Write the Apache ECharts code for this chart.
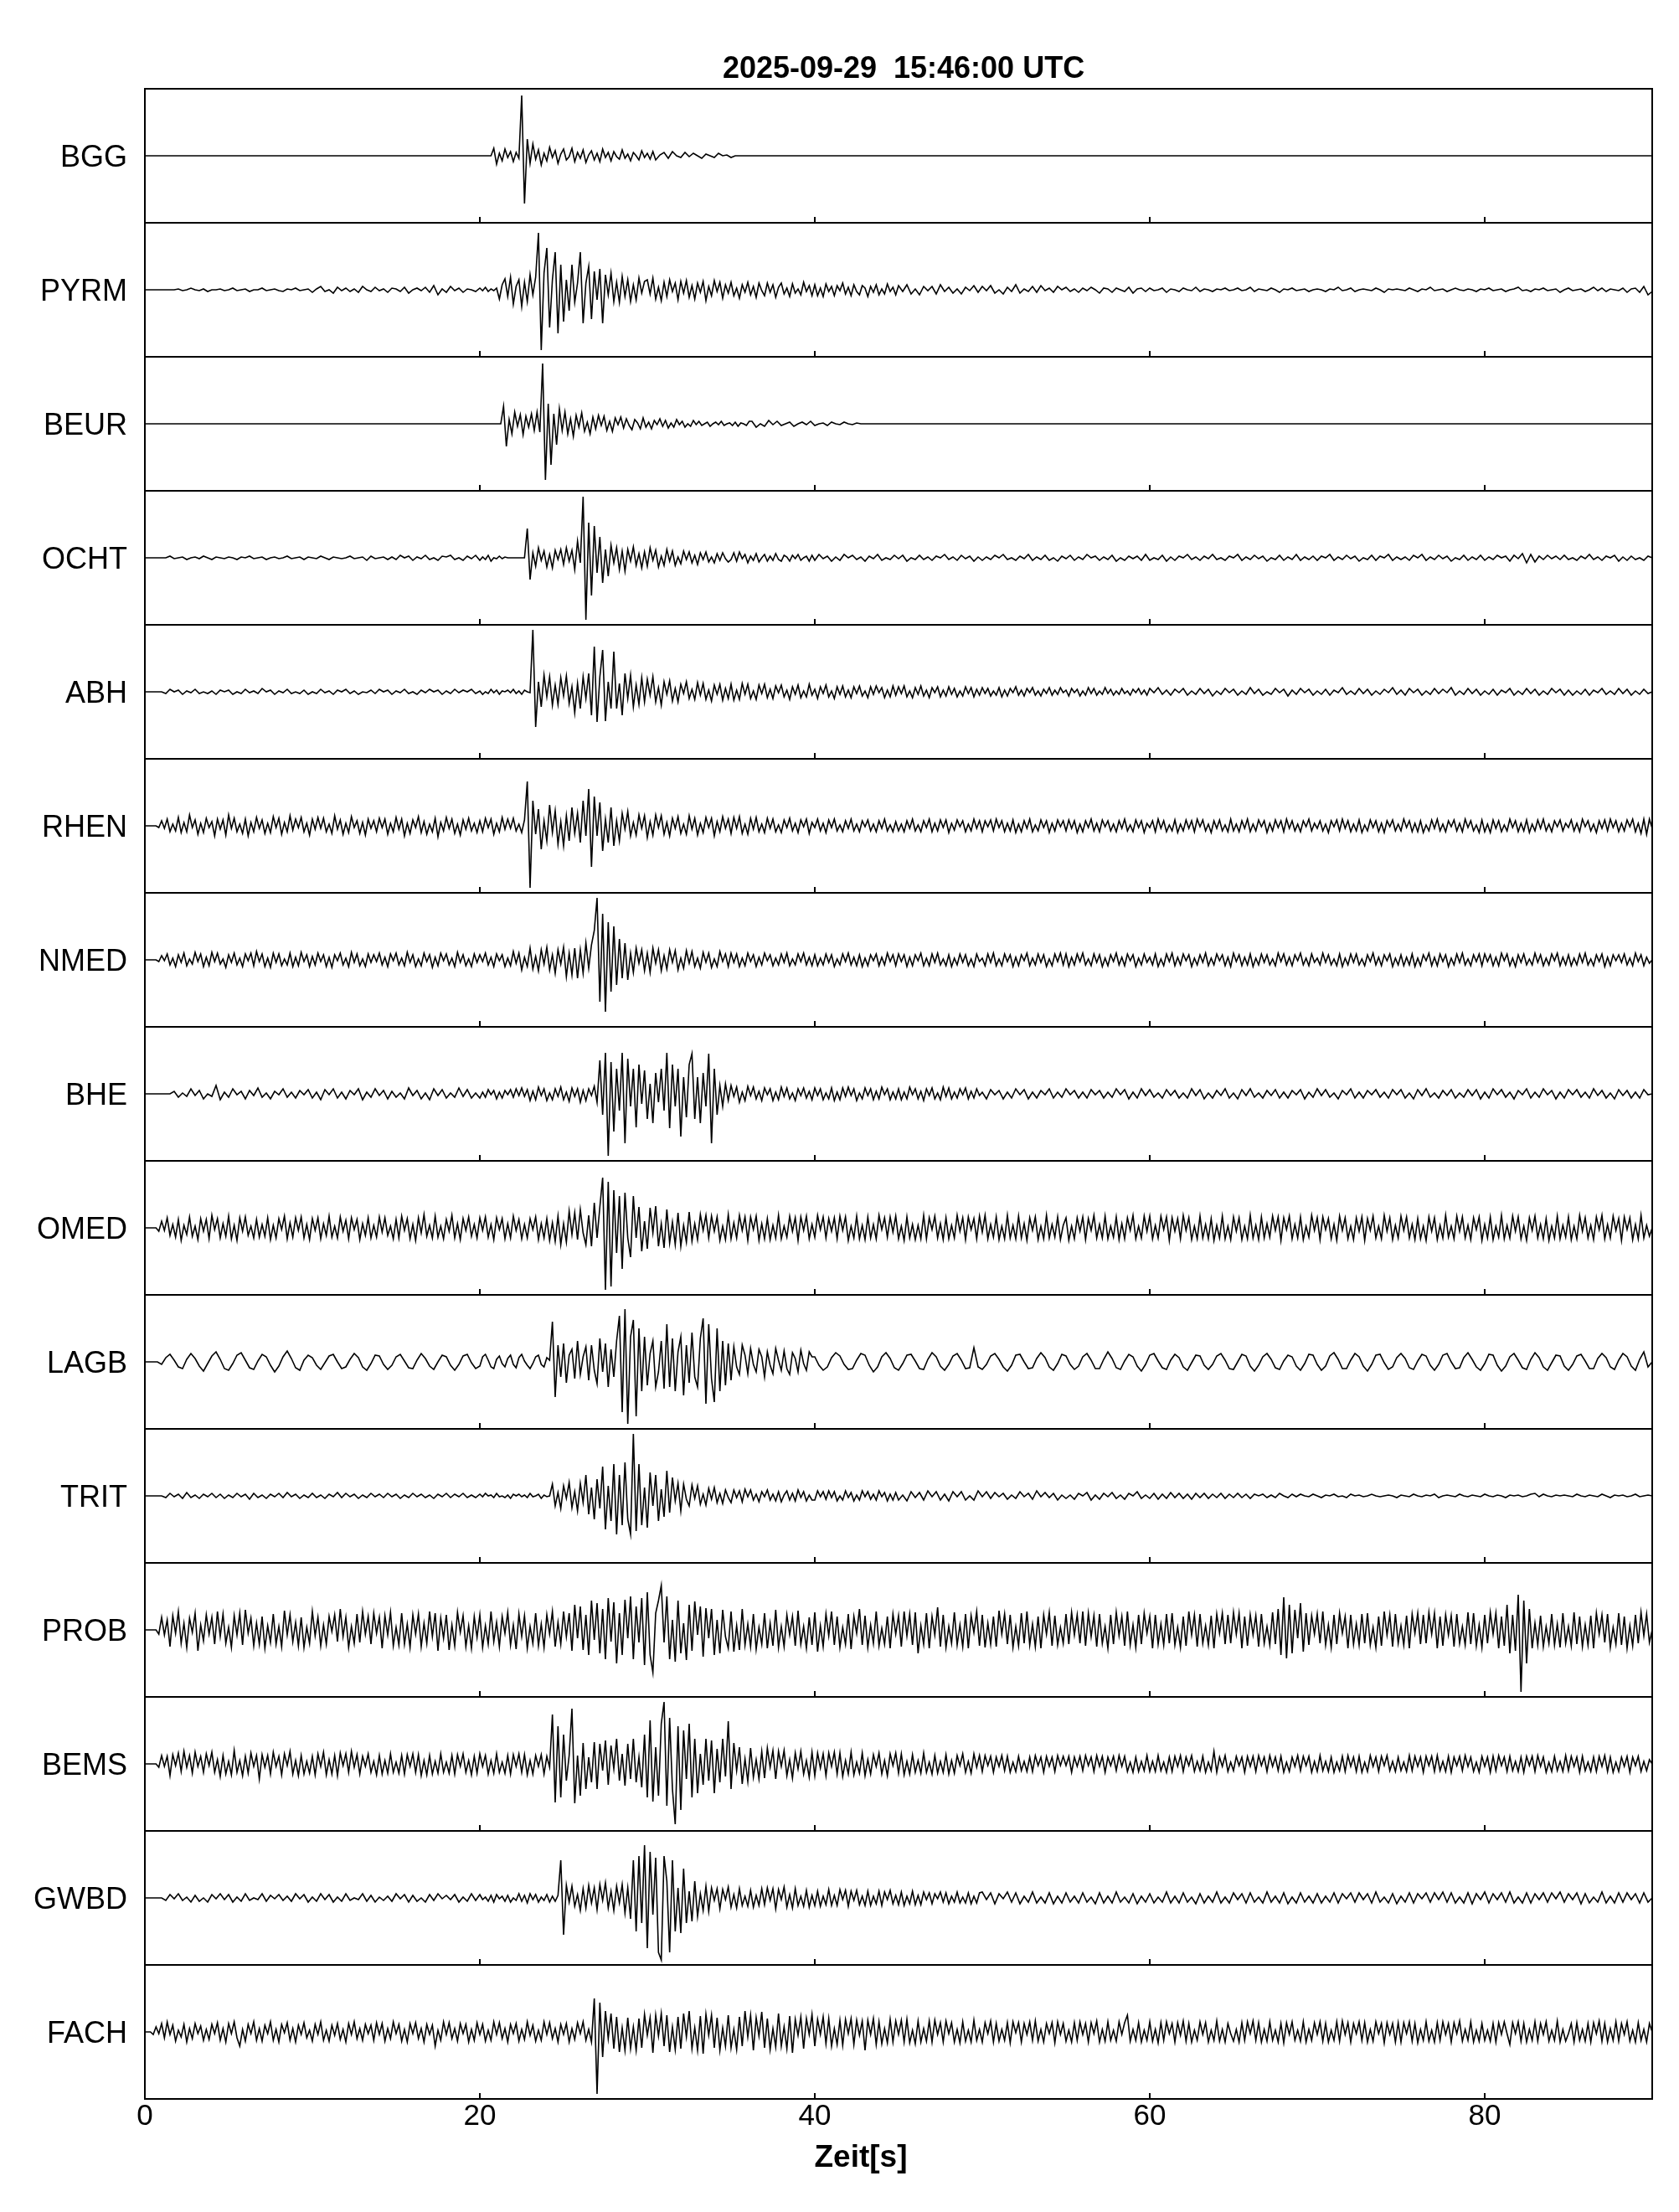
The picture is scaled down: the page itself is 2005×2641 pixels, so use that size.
<!DOCTYPE html>
<html>
<head>
<meta charset="utf-8">
<script src="https://cdn.jsdelivr.net/npm/echarts@6/dist/echarts.min.js"></script>
<style>
html,body{margin:0;padding:0;background:#fff;}
#chart{width:2005px;height:2641px;}
</style>
</head>
<body>
<div id="chart"></div>
<script>
// ---- Data: amplitudes in display units; each row spans 5 s (its samples evenly spaced), last row = t 90 ----
const TITLE = '2025-09-29  15:46:00 UTC';
const X_LABEL = 'Zeit[s]';
const X_TICKS = [0, 20, 40, 60, 80];
const ROW_SPAN = 5;
const DT_SHORT = 0.25;
const stations = ['BGG','PYRM','BEUR','OCHT','ABH','RHEN','NMED','BHE','OMED','LAGB','TRIT','PROB','BEMS','GWBD','FACH'];
const starts = [20.5,0,21.25,0,0,0,0,0,0,0,0,0,0,0,0];

const BGG = [
[0,0,9,-10,3,-6,8,-2,5,-7,4,-3,72,-57,20,-9,14,-4,7,-11,3,-6,10,-2,6,-9,2,8,-5,-1],
[9,-7,4,-3,7,-8,1,6,-5,3,-7,8,-2,4,-6,5,-1,-4,7,-3,2,-6,4,0,-5,6,-2,3,-4,5],
[-5,1,4,-3,5,0,-2,4,-1,3,0,-3,2,0,-2,3,0,1,-2,0],
[0]];
const PYRM = [
[0,0,0,0,0,0,0,0,1,-1,0,2,0,-1,1,-2,0,0,1,-1],
[0,2,-1,0,1,-2,0,0,2,-1,0,1,-1,-2,1,0,2,-1,0,1],
[-3,1,4,-2,0,-4,3,-1,2,-2,1,-3,4,0,-2,3,-1,1,-3,2],
[1,-2,3,-4,0,2,-1,3,-3,5,-6,1,-3,4,-1,2,-3,1,0,-2],
[2,-1,3,-2,1,-1,2,-11,6,13,-8,15,-17,4,12,-20,9,-14,18,-6,15,68,-72,20,50,-45,12,45,-52,30],
[-38,12,-25,30,-15,8,45,-40,8,28,-35,22,-12,25,-40,18,-6,20,-14,9,-15,16,-8,12,-14,6,-12,14,-4,10],
[12,-5,14,-11,3,-13,9,-8,12,-2,8,-12,10,-4,11,-9,5,-11,8,-3,10,-13,4,-7,11,-2,9,-10,6,-4],
[9,-7,2,-10,6,-3,9,-6,4,-9,8,-1,-7,8,-3,6,-9,3,8,-5,2,-8,7,-4,1,-6,9,-2,5,-7],
[6,-7,2,-8,7,-2,4,-7,5,-1,8,-5,3,-7,6,-2,-6,5,2,-8,4,-3,6,-6,1,-5,7,-2,3,-6],
[5,-2,6,-5,1,-6,4,-1,4,-5,6,-2,3,-4,1,-5,3,-1,5,-3],
[4,-1,5,-4,0,-5,3,-2,6,-4,1,-2,4,-3,5,-1,2,-3,4,0],
[3,-2,1,-3,2,-1,3,0,-4,2,1,-3,2,0,-2,3,-4,1,2,-2],
[2,-1,0,2,-3,1,0,-2,2,0,-1,3,-2,1,0,-2,1,0,2,-1],
[0,2,-1,0,3,-2,1,0,-1,2,0,-3,1,0,2,-1,0,1,-2,0],
[1,0,-2,1,0,3,-1,0,2,-2,0,1,0,-1,2,0,-3,1,0,1],
[0,-1,2,0,-2,1,0,3,-1,0,1,-2,0,2,0,-1,1,0,-2,1],
[0,2,-1,0,1,-2,0,1,3,-1,0,-2,1,0,2,-1,0,1,-3,0],
[2,-1,0,1,-2,0,3,-1,2,-2,1,0,-1,2,-3,1,2,-3,4,-6],
[-2]];
const BEUR = [
[0,21,-27,5,-12,14,-3,11,-13,9,-4,12,-8,14,-10,72,-67,24,-49,12,-25,18,-8,14,-12,6,-15,10,-4,13],
[-9,2,-12,8,-6,10,-2,9,-8,3,-9,7,-1,8,-5,6,-2,-7,5,1,-6,7,-4,2,-6,4,-1,6,-3,4],
[-5,1,-4,5,-1,3,-4,0,-3,4,-1,3,-2,0,2,-3,0,2,-1,3,-2,0,1,-2,2,-3,1,0,-2,3],
[3,-4,0,-3,4,-1,3,-2,0,2,-3,0,2,-1,3,-2,0,1,-2,2],
[0,-1,2,0,-1,1,0]];
const OCHT = [
[0,0,0,0,0,0,2,-1,0,1,-2,0,1,-1,2,0,-2,1,0,-1],
[1,0,-2,1,0,2,-1,0,1,-2,0,1,-1,0,2,-1,0,1,-2,1],
[0,-1,2,0,-2,1,0,-1,0,2,-1,0,1,-3,2,-1,0,1,-2,1],
[-2,3,0,2,-3,1,-1,3,-2,0,-3,2,1,3,-2,0,-3,2,-1,3],
[-3,1,-2,3,-4,0,-1,2,-1,1,0,0,0,0,0,0,0,35,-26,6,-10,12,-3,8,-11,4,-12,9,-2,10],
[-8,12,-4,9,-14,20,-6,73,-74,42,-45,38,-18,25,-30,10,-22,15,-6,12,-14,8,-16,10,-4,13,-9,5,-12,7],
[-10,12,-3,9,-11,2,-9,10,-4,8,-9,1,-7,8,-2,7,-6,3,-8,6,-2,7,-5,1,-6,5,-3,6,-1,-5],
[-2,6,-4,7,-1,4,-6,2,-3,5,-5,0,4,-4,2,-3,5,-2,-4,3,1,-4,3,-1,4,-3,0,2,-4,3],
[-3,4,-1,2,-4,1,-3,4,0,3,-2,1,-4,2,-1,4,-3,0,-2,3],
[-1,3,-4,0,-2,3,-2,1,-3,2,0,4,-2,1,-3,3,-1,2,-4,1],
[-3,1,-2,3,0,4,-2,0,-3,2,-1,4,-3,1,-2,3,-3,0,-4,2],
[-1,3,-3,1,-2,4,0,2,-3,1,-2,3,-4,0,-3,2,-1,2,-3,4],
[-3,0,-2,3,-4,1,-3,2,0,4,-2,1,-3,2,-1,4,-2,0,-3,2],
[0,4,-3,1,-2,3,-1,2,-4,0,-2,3,-3,1,-2,4,-3,1,-2,2],
[-3,2,0,4,-3,1,-2,3,-1,2,-4,0,-2,3,-3,2,0,4,-3,1],
[-2,1,-3,3,0,4,-3,1,-2,3,-1,2,-4,0,-2,3,-3,1,-2,3],
[-3,1,-2,3,0,2,-4,3,-1,5,-6,4,-5,2,-2,3,-1,2,-2,3],
[-2,0,-3,2,-1,4,-2,1,-3,2,0,3,-4,1,-3,2,-2,0,-3,2],
[0]];
const ABH = [
[0,0,0,0,0,-2,3,0,2,-3,1,-1,3,-2,0,-2,1,-3,2,0],
[2,-3,0,-2,3,-1,1,-2,4,0,2,-3,1,-1,3,-2,0,-2,2,-3],
[0,-2,3,-1,1,-3,2,0,3,-2,1,-3,0,-1,2,-2,3,0,2,-3],
[1,-1,3,-2,0,-3,2,-1,3,0,2,-3,1,-2,3,-1,2,0,3,-2],
[1,-3,0,-2,3,-1,2,-3,1,0,2,-1,3,-2,1,-3,2,0,-1,74,-42,12,-18,20,-6,18,-16,8,-15,17],
[-5,19,-14,6,-25,10,-20,18,-8,22,-28,54,-36,18,50,-35,12,-20,48,-20,10,-28,22,-8,20,-18,8,-15,17,-12],
[15,-4,18,-12,5,-16,12,-3,13,-11,4,-12,9,-2,12,-8,3,-9,11,-4,10,-9,2,-11,8,-3,9,-10,4,-8],
[9,-10,2,-9,10,-3,9,-8,1,-9,8,-2,9,-7,3,-8,7,-1,8,-6,2,-9,6,-3,8,-7,1,-6,9,-4],
[3,-8,6,-2,8,-6,1,-8,6,-3,7,-6,2,-7,6,-2,7,-5,1,-7,6,-3,7,-1,5,-7,2,-6,7,-4],
[6,-2,7,-6,1,-7,5,-3,7,-5,2,-7,5,-1,6,-6,2,-5,6,-3,4,-6,1,-5,6,-2,5,-6,3,-4],
[5,-2,4,-5,1,-4,5,-6,2,-5,4,-1,6,-4,2,-5,4,-1,5,-4,1,-5,3,-2,5,-4,2,-3,5,-1],
[2,-5,4,-1,3,-5,1,-4,5,-2,4,-4,1,-3,5,-2,3,-4,1,-3,4,-2,1,-4,3,-1,4,-3,2,-4],
[4,-1,5,-3,2,-4,3,-1,4,-4,1,-3,4,-2,3,-5,1,-3,4,-1],
[3,-4,1,-3,5,-2,3,-4,0,-3,4,-1,3,-5,2,-3,4,-1,3,-4],
[1,-3,3,-4,2,-1,5,-3,1,-3,4,-2,3,-4,1,-3,3,-1,5,-3],
[2,-4,4,-1,3,-4,1,-3,4,-2,3,-1,5,-4,1,-3,4,-2,3,-4],
[1,-3,3,-4,2,-1,4,-4,1,-3,4,-2,3,-4,1,-3,4,-1,3,-4],
[2,-4,1,-3,3,-4,2,-1,4,-3,1,-3,4,-2,3,-4,1,-3,3,-2],
[0]];
const RHEN = [
[0,0,0,0,0,-2,6,-3,8,-7,2,-6,10,-8,4,-7,13,-2,7,-10,3,-8,9,-2,5,-12,8,-4,7,-11],
[13,-3,9,-7,2,-9,8,-12,4,-7,10,-3,7,-9,3,-8,11,-2,9,-10,4,-7,12,-5,8,-2,10,-7,3,-11],
[8,-4,10,-3,9,-7,2,-9,12,-4,7,-10,3,-8,11,-2,6,-9,4,-11,8,-3,6,-7,9,-2,8,-10,3,-7],
[10,-4,8,-12,3,-9,7,-2,11,-8,5,-10,2,-7,9,-13,4,-6,10,-3,8,-9,2,-11,7,-4,9,-6,3,-8],
[6,-7,9,-2,8,-10,3,-7,10,-4,8,-3,9,-6,2,-8,7,53,-74,30,-10,20,-28,6,-18,25,-8,18,-22,5],
[-24,12,-18,22,-9,15,-20,30,-12,44,-49,35,-12,28,-30,8,-20,22,-24,6,-18,15,-4,17,-12,4,-11,13,-3,12],
[-14,5,-11,13,-2,12,-10,4,-12,9,-3,11,-9,2,-10,12,-4,9,-11,3,-8,10,-2,9,-12,5,-7,11,-3,8],
[-9,10,-3,11,-9,2,-10,9,-4,10,-7,2,-8,9,-3,8,-7,1,-8,7,-2,9,-6,3,-8,7,-1,8,-9,4],
[-2,8,-6,3,-8,7,-2,8,-6,1,-7,6,-3,8,-6,2,-7,6,-1,7,-6,2,-7,6,-3,8,-6,1,-7,5],
[-6,2,-7,6,-3,8,-6,1,-7,6,-2,8,-7,3,-6,7,-2,7,-8,3,-5,7,-1,6,-7,2,-6,8,-3,6],
[-7,6,-1,7,-6,8,-2,6,-7,3,-6,7,-8,2,-7,6,-3,8,-7,1,-6,7,-2,6,-8,3,-6,7,-1,6],
[-6,7,-3,6,-8,2,-7,6,-2,8,-6,3,-7,7,-1,6,-6,2,-7,6,-3,8,-6,1,-7,7,-2,6,-8,3],
[-2,6,-7,8,-3,6,-7,1,-6,7,-8,2,-6,7,-3,6,-7,8,-1,7,-6,2,-8,6,-3,7,-6,1,-7,8],
[-6,2,-7,6,-3,8,-7,2,-6,7,-1,6,-8,3,-6,7,-2,6,-7,8,-3,6,-6,2,-7,6,-1,8,-6,3],
[-3,6,-6,2,-8,6,-1,7,-6,8,-3,6,-7,2,-6,7,-8,1,-6,7,-2,6,-7,3,-8,6,-1,7,-6,2],
[-6,8,-2,6,-7,3,-7,6,-8,1,-6,7,-3,8,-6,2,-7,6,-1,7,-6,3,-7,8,-2,6,-6,1,-8,7],
[-7,2,-8,7,-3,6,-7,1,-6,8,-2,6,-7,3,-6,7,-8,2,-6,7,-3,8,-6,2,-7,6,-1,7,-6,3],
[-2,7,-6,3,-7,8,-1,6,-6,2,-8,6,-3,7,-6,8,-2,6,-7,3,-6,7,-1,8,-7,3,-9,8,-10,8],
[-3]];
const NMED = [
[0,0,0,0,0,-2,5,-1,7,-6,2,-8,6,-3,8,-7,1,-5,9,-2,7,-8,3,-7,9,-2,8,-5,1,-9],
[6,-3,8,-6,2,-8,7,-1,8,-7,10,-2,7,-8,2,-9,8,-3,7,-7,1,-6,8,-8,3,-7,9,-2,6,-8],
[4,-6,8,-2,6,-8,3,-9,6,-1,8,-6,2,-8,9,-3,7,-7,1,-8,7,-3,6,-2,8,-6,3,-8,7,-1],
[8,-6,2,-7,9,-3,6,-8,1,-7,8,-2,6,-9,3,-7,8,-1,7,-6,2,-8,9,-3,6,-7,1,-8,7,-3],
[6,-2,8,-6,3,-8,7,-1,6,-8,2,-7,10,-4,8,-12,3,-8,14,-11,4,-13,12,-5,15,-12,6,-16,12,-5],
[15,-20,8,-18,14,-22,12,-16,20,-10,18,35,74,-50,55,-62,45,-38,40,-30,25,-22,20,-24,8,-15,14,-4,12,-13],
[8,-15,14,-4,12,-13,5,-11,12,-3,11,-12,2,-10,11,-4,10,-8,2,-10,9,-3,8,-9,1,-8,10,-2,7,-8],
[8,-3,7,-8,2,-7,8,-2,6,-8,3,-6,8,-1,6,-7,2,-6,7,-3,8,-7,1,-6,7,-2,8,-6,3,-7],
[6,-7,2,-6,7,-3,6,-8,1,-6,7,-2,8,-6,3,-7,6,-8,2,-7,6,-1,7,-7,3,-6,8,-2,6,-7],
[7,-2,6,-8,3,-7,6,-1,8,-7,2,-7,7,-3,8,-6,1,-7,6,-8,2,-6,7,-3,6,-7,1,-8,7,-2],
[2,-7,7,-3,8,-7,1,-7,7,-2,6,-8,3,-7,6,-1,8,-7,2,-6,7,-3,6,-8,1,-7,7,-2,8,-6],
[7,-8,3,-6,7,-2,8,-6,1,-7,7,-3,6,-8,2,-7,6,-2,8,-6,3,-7,7,-1,6,-8,2,-6,7,-3],
[3,-6,7,-8,1,-7,7,-2,8,-7,3,-6,7,-1,6,-8,2,-6,6,-3,8,-7,2,-6,7,-1,6,-7,3,-8],
[8,-2,6,-7,3,-6,7,-8,2,-6,7,-3,6,-6,1,-7,8,-2,7,-6,3,-7,6,-1,8,-6,2,-7,7,-3],
[2,-6,8,-3,6,-6,1,-7,7,-8,2,-6,7,-3,7,-6,1,-7,6,-2,8,-6,3,-7,6,-1,7,-8,2,-6],
[6,-7,3,-6,7,-8,2,-7,6,-1,8,-7,3,-7,7,-2,6,-8,2,-6,7,-3,8,-6,1,-7,6,-2,7,-7],
[7,-2,6,-7,3,-7,8,-1,7,-7,2,-8,6,-3,7,-6,1,-6,8,-3,6,-7,2,-6,7,-1,8,-7,3,-6],
[6,-7,2,-6,7,-3,8,-6,1,-7,6,-2,7,-8,3,-7,6,-1,6,-3,7,-6,2,-7,8,-2,6,-7,3,-4],
[0]];
const BHE = [
[0,0,0,0,0,0,0,3,-4,1,-3,6,-2,4,-6,0,-3,10,-7,2],
[-4,6,-1,3,-6,4,-2,7,-4,1,-6,3,-1,6,-4,2,-5,4,-1,5],
[-5,2,-7,5,-1,6,-5,2,-6,4,-1,6,-7,2,-4,6,-2,4,-6,3],
[-4,1,-6,7,-2,4,-6,1,-7,6,-2,5,-5,1,-4,7,-3,5,-5,1],
[-5,2,-4,5,-1,4,-6,2,-5,4,-1,5,-4,6,-2,7,-3,5,-8,3,-7,8,-2,6,-8,1,-7,6,-3,8],
[-7,2,-9,7,-3,6,-10,4,-8,6,-2,9,-10,40,-25,49,-74,38,-45,30,-20,49,-59,42,-15,30,-40,35,-12,28],
[-30,12,-35,25,-10,30,-20,49,-41,35,-15,30,-51,20,-28,35,48,-30,20,-35,25,-15,48,-59,30,-25,10,-15,12,-8],
[10,-3,8,-10,2,-8,9,-2,8,-6,3,-8,7,-1,6,-8,2,-7,8,-3,7,-6,1,-8,6,-2,7,-5,3,-7],
[7,-2,6,-7,1,-6,7,-8,2,-7,7,-3,8,-2,6,-8,1,-6,7,-2,6,-7,3,-6,8,-1,6,-7,2,-6],
[6,-7,2,-6,8,-1,6,-6,3,-8,6,-2,7,-6,1,-7,8,-3,7,-6,2,-5,6,-1,7,-6,3,-5,6,-2],
[2,-6,5,-1,4,-6,2,-5,6,-1,5,-6,2,-5,4,-1,6,-5,2,-4],
[6,-1,4,-5,2,-5,5,-1,4,-5,2,-4,6,-1,5,-6,2,-5,6,-2],
[5,-4,1,-5,5,-2,4,-5,1,-5,6,-2,5,-6,1,-5,4,-2,6,-5],
[1,-6,5,-2,6,-4,1,-5,4,-2,5,-5,2,-5,4,-1,5,-6,2,-4],
[6,-2,5,-4,1,-6,4,-1,6,-5,2,-5,4,-1,5,-4,2,-5,5,-1],
[5,-5,1,-6,5,-2,6,-4,1,-5,4,-2,5,-5,1,-4,5,-2,5,-6],
[2,-5,6,-1,5,-4,2,-6,4,-1,6,-5,2,-4,6,-1,4,-6,2,-5],
[5,-1,5,-4,2,-5,6,-2,4,-5,1,-6,5,-2,4,-5,2,-5,5,-1],
[0]];
const OMED = [
[0,0,0,0,0,-4,8,-3,12,-9,4,-11,10,-15,3,-8,13,-10,2,-14,11,-4,10,-13,15,-2,11,-12,5,-10],
[14,-13,3,-15,12,-4,13,-9,2,-12,10,-11,4,-10,12,-14,3,-12,11,-2,14,-13,6,-11,12,-3,13,-12,4,-14],
[11,-3,12,-13,5,-9,14,-11,2,-12,13,-4,9,-13,12,-2,10,-14,5,-9,12,-12,3,-11,13,-5,12,-9,2,-13],
[10,-12,14,-3,11,-13,4,-15,12,-6,16,-10,3,-12,14,-11,2,-13,10,-4,15,-12,5,-14,11,-3,13,-10,4,-12],
[12,-3,13,-11,4,-14,12,-2,11,-13,5,-12,14,-3,10,-13,4,-12,11,-2,13,-14,5,-12,11,-15,6,-16,14,-20],
[5,-17,20,-8,18,-14,22,-6,-20,15,-22,30,-12,25,60,-74,55,-70,45,-30,38,-49,42,-12,-35,38,-12,25,-28,8],
[-25,24,-6,26,-22,5,-24,22,-18,7,-20,18,-22,3,-17,19,-16,5,-14,16,-3,15,-12,14,-4,13,-15,2,-14,16],
[-13,6,-12,15,-3,13,-15,13,-2,14,-15,5,-13,11,-14,3,-12,15,-13,2,-11,14,-4,12,-15,13,-3,14,-13,4],
[-11,15,-2,13,-12,11,-4,12,-13,14,-3,13,-15,2,-12,14,-13,3,-14,13,-12,4,-13,15,-2,12,-11,13,-5,14],
[-13,2,-15,13,-12,4,-14,3,-13,15,-13,12,-2,14,-12,5,-14,12,-13,3,-12,15,-4,12,-14,13,-2,11,-13,14],
[-5,15,-13,4,-11,13,-14,2,-13,15,-12,3,-13,14,-12,5,-15,12,-3,13,-14,2,-13,15,-12,4,-11,13,-14,3],
[12,-15,2,-13,12,-4,13,-14,11,-3,15,-12,4,-12,14,-13,2,-11,13,-14,5,-13,12,-3,15,-13,2,-12,14,-4],
[14,-13,3,-12,14,-2,13,-15,12,-4,11,-13,15,-3,12,-14,2,-13,14,-12,4,-13,11,-15,3,-12,14,-13,2,-14],
[13,-4,12,-14,2,-13,15,-12,3,-14,13,-12,5,-11,14,-3,13,-15,12,-2,14,-13,4,-12,13,-14,2,-11,15,-3],
[12,-14,13,-2,11,-13,4,-15,14,-3,12,-13,2,-14,12,-4,13,-15,11,-3,14,-12,2,-13,15,-4,12,-14,3,-12],
[14,-3,13,-12,4,-14,11,-13,2,-15,13,-4,12,-14,3,-12,15,-11,2,-13,14,-4,13,-12,3,-14,12,-2,13,-15],
[4,-12,13,-14,2,-11,15,-13,3,-12,14,-4,13,-13,2,-15,12,-3,14,-12,4,-13,11,-15,2,-12,14,-13,3,-11],
[13,-14,2,-13,15,-4,12,-12,3,-14,13,-2,15,-13,4,-12,14,-3,11,-15,13,-2,12,-14,4,-13,15,-12,3,-10],
[0]];
const LAGB = [
[0,0,0,0,-3,5,9,2,-6,-8,3,10,4,-5,-11,-2,7,12,3,-8],
[-10,-2,8,11,2,-7,-9,1,9,6,-4,-12,-5,6,13,4,-7,-10,2,8],
[5,-4,-9,-1,7,9,0,-8,-6,3,10,5,-6,-10,-2,8,7,-3,-9,-4],
[6,9,1,-7,-8,2,10,4,-5,-9,0,8,6,-4,-10,-3,7,9,-1,-8],
[-5,6,9,2,-6,-8,3,7,-2,-6,4,8,-3,-7,5,9,1,-4,-8,-2,6,8,-3,-6,5,2,48,-42,20,-18],
[22,-25,8,15,-20,25,-15,6,18,-22,20,-10,-26,28,-12,22,-30,15,-18,25,55,-60,63,-74,30,50,-65,40,-35,30],
[-28,10,25,-30,-12,25,-32,45,-30,28,-35,12,30,-40,20,-25,35,-18,-30,28,52,-50,45,-20,-48,40,-35,25,-28,22],
[-22,18,-6,-15,20,8,-14,16,-3,-12,15,6,-18,12,-4,-14,16,2,-10,13,-8,-15,11,4,-12,14,-2,-10,12,6],
[6,-4,-10,-6,5,11,7,-3,-9,-8,2,10,8,-4,-12,-6,6,11,4,-7],
[-10,-2,8,9,1,-8,-9,3,11,6,-5,-10,-3,7,10,2,-8,-7,17,-6],
[-9,-3,7,10,3,-6,-11,-4,8,9,0,-8,-7,4,11,5,-6,-10,-2,9],
[7,-3,-9,-5,6,10,2,-8,-8,3,12,4,-7,-9,1,9,6,-5,-11,-3],
[8,10,1,-7,-9,2,9,5,-6,-10,-1,8,7,-4,-9,-3,7,10,2,-8],
[-9,0,9,7,-5,-11,-4,6,10,3,-7,-9,1,8,6,-5,-10,-2,9,8],
[-3,-10,-5,7,11,3,-8,-8,2,10,6,-5,-11,-3,8,9,-1,-9,-6,5],
[10,4,-7,-9,1,9,7,-4,-10,-3,8,10,0,-8,-7,5,11,3,-6,-10],
[-2,9,8,-4,-11,-5,6,10,2,-7,-9,3,11,5,-6,-10,-1,8,7,-5],
[-10,-3,7,9,1,-8,-8,4,10,5,-6,-9,2,10,6,-5,-10,3,12,-6],
[0]];
const TRIT = [
[0,0,0,0,0,-2,3,-1,2,-3,4,-2,1,-3,2,-1,3,-2,2,-3],
[1,-2,3,-1,2,-4,3,-2,1,-3,2,-1,3,-2,4,-1,2,-3,1,-2],
[3,-2,1,-3,2,-1,4,-2,3,-1,2,-3,1,-2,3,-1,2,-2,3,-1],
[2,-3,1,-2,3,-1,2,-2,1,-3,2,-1,3,-2,2,-1,3,-2,1,-2],
[2,-1,3,0,1,-2,3,-1,0,-2,1,-3,2,0,2,-1,1,-2,3,-1,0,2,-3,1,-1,0,14,-12,4,-15],
[12,-3,16,-14,5,-18,15,-8,25,-22,10,-28,20,-15,35,-40,12,-30,38,-46,25,-35,40,-28,-46,74,-42,38,-35,10],
[-38,28,-12,25,-30,8,-25,30,-20,22,-6,15,-18,14,-4,-12,13,-3,12,-10,2,-11,9,-4,10,-8,3,-9,7,-2],
[-8,7,-2,6,-7,8,-1,7,-5,2,-7,5,-1,7,-5,2,-6,5,-7,1,6,-5,3,-6,7,-2,5,-6,1,-5],
[-5,6,-1,5,-4,6,-2,5,-6,0,-5,6,-2,4,-6,1,-5,6,-1,5,-4,2,-5,6,-1,4,-6,2,-5,4],
[-5,1,-6,5,-2,4,-5,6,-1,5,-5,2,-6,5,-1,5,-5,0,-5,6],
[-1,5,-3,4,-1,3,-4,1,-3,5,-1,3,-4,6,-1,4,-2,3,-5,1],
[-3,1,-4,3,0,4,-5,1,-4,3,-1,4,-3,1,-4,3,0,5,-3,1],
[-3,3,-4,2,-3,4,-2,3,-3,2,-4,3,-2,3,-3,2,-2,3,-3,2],
[-2,3,-2,2,-3,2,0,2,-2,1,-2,3,0,-2,2,-1,2,0,-1,2],
[0,-2,1,0,2,-1,0,-2,2,0,1,-1,0,2,0,-1,0,1,0,-2],
[1,0,-1,2,0,-1,1,0,2,-2,0,1,0,-1,2,0,-1,1,0,-1],
[2,0,-1,1,0,-2,1,0,1,-1,0,2,3,-1,2,0,-1,1,0,1],
[0,-1,2,0,-1,1,0,-1,2,0,-2,1,0,1,-1,0,2,-1,0,1],
[0]];
const PROB = [
[0,0,0,0,0,-5,15,-6,12,-20,17,-4,22,-16,8,-21,14,-3,20,-25,6,-13,18,-5,15,-17,22,-8,19,-16],
[3,-21,17,-6,20,-18,24,-4,14,-19,8,-17,16,-22,5,-15,19,-17,4,-20,23,-6,18,-14,9,-19,15,-21,3,-16],
[22,-7,15,-19,6,-17,16,-2,18,-14,25,-8,15,-21,4,-16,19,-15,22,-5,16,-17,20,-4,15,-22,17,-6,21,-19],
[3,-18,20,-17,7,-21,18,-5,19,-20,8,-16,22,-8,20,-25,14,-10,18,-24,6,-19,21,-3,17,-20,5,-22,16,-9],
[18,-21,5,-17,22,-14,9,-20,16,-4,21,-18,6,-23,19,-8,17,-22,4,-16,20,-19,7,-21,18,-5,22,-20,9,-17],
[22,-8,20,-25,30,-10,28,-24,18,-30,35,-12,32,-28,25,-35,38,-14,33,-40,20,-30,36,-10,40,-35,28,-15,38,-42],
[45,-30,-51,20,35,53,-15,40,-35,12,-38,35,-28,8,-36,30,-25,34,-6,28,-32,26,-10,25,-30,12,-28,24,-8,-22],
[22,-26,5,-24,25,-18,7,-20,19,-23,3,-17,20,-22,8,-19,24,-21,4,-20,18,-6,16,-19,23,-17,4,-22,15,-18],
[21,-26,5,-20,19,-7,22,-18,16,-21,3,-17,19,-23,16,-4,25,-18,17,-21,6,-16,22,-19,2,-17,16,-22,19,-5],
[17,-20,22,-7,19,-18,21,-28,5,-17,20,-22,16,-6,27,-20,18,-21,4,-16,21,-18,6,-20,19,-22,17,-3,22,-19],
[18,-21,8,-17,16,-20,23,-5,19,-17,18,-21,4,-19,20,-16,22,-18,7,-20,16,-22,18,-5,21,-19,17,-18,3,-16],
[19,-17,21,-6,18,-16,22,-19,20,-8,17,-20,19,-16,4,-22,18,-17,21,-7,16,-19,22,-18,6,-21,18,-17,20,-4],
[16,-22,18,-17,7,-18,19,-16,20,-18,3,-21,16,-19,22,-6,18,-20,19,-16,5,-18,17,-22,19,-4,20,-17,18,-16],
[21,-5,20,-22,16,-19,18,-6,17,-20,19,-16,4,-18,21,-17,25,-30,39,-34,30,-28,24,-10,32,-26,20,-18,17,-5],
[19,-16,22,-18,6,-21,18,-17,20,-4,16,-22,18,-17,7,-18,19,-16,20,-18,3,-21,16,-19,22,-6,18,-20,19,-16],
[5,-18,17,-22,19,-4,20,-17,18,-16,21,-5,20,-22,16,-19,18,-6,17,-20,19,-16,4,-18,21,-17,20,-19,6,-21],
[18,-16,21,-5,20,-22,16,-19,30,-28,18,-25,42,-74,35,-40,25,-22,8,-18,17,-20,4,-16,19,-18,7,-21,20,-16],
[4,-19,21,-17,16,-20,6,-18,17,-22,20,-5,18,-15,19,-21,3,-17,20,-18,16,-22,5,-19,18,-16,21,-7,19,-15],
[0]];
const BEMS = [
[0,0,0,0,0,-4,10,-3,9,-14,11,-2,13,-9,15,-4,10,-11,14,-3,9,-10,12,-2,14,-10,5,-15,10,-12],
[3,-13,16,-10,4,-14,9,-11,13,-3,10,-18,11,-4,10,-12,14,-3,9,-13,12,-2,15,-12,4,-14,10,-12,3,-11],
[9,-13,12,-3,14,-13,5,-12,10,-14,13,-2,12,-10,15,-4,11,-12,9,-3,12,-10,3,-13,10,-12,4,-11,12,-10],
[2,-11,10,-12,11,-3,12,-10,11,-14,4,-13,10,-12,3,-11,12,-10,2,-11,10,-12,11,-3,12,-10,4,-13,9,-11],
[12,-3,10,-12,4,-11,12,-10,2,-11,10,-12,11,-3,12,-10,11,-13,4,-12,10,-3,11,-12,9,-4,59,-46,45,-40],
[35,-20,10,66,-47,10,-38,25,-30,8,-22,26,-30,24,-8,28,-25,22,-6,30,-20,12,-26,24,-18,30,-22,8,-28,35],
[-40,52,-45,20,-38,48,74,-50,55,-30,-72,45,-55,40,-18,48,-40,30,-35,12,-25,30,-20,28,-35,18,-22,30,-15,51],
[-30,25,-8,20,-24,6,-21,19,-16,5,-18,15,-17,19,-4,16,-18,15,-3,16,-14,5,-17,13,-6,15,-12,4,-16,14],
[-14,13,-5,12,-14,13,-3,14,-12,13,-15,4,-12,14,-13,2,-11,13,-14,5,-12,11,-3,13,-12,4,-14,12,-2,13],
[-11,12,-13,3,-12,11,-10,4,-11,13,-10,2,-12,10,-11,3,-10,11,-12,4,-11,10,-2,12,-10,3,-11,12,-4,10],
[-9,10,-2,9,-10,8,-3,10,-8,9,-10,2,-9,9,-8,3,-9,8,-9,10,-2,8,-10,9,-3,8,-9,10,-2,9],
[-2,9,-10,8,-3,9,-8,10,-2,8,-9,10,-3,9,-10,8,-2,9,-8,10,-3,9,-9,2,-10,8,-9,3,-8,10],
[-9,3,-9,10,-8,2,-10,8,-9,9,-3,10,-9,8,-2,10,-9,3,-8,9,-10,2,-8,15,-10,8,-3,10,-9,2],
[-8,9,-2,8,-10,9,-3,9,-9,10,-2,8,-9,10,-3,8,-8,9,-10,2,-9,8,-3,10,-8,9,-2,9,-10,3],
[-9,10,-8,3,-9,8,-10,2,-8,9,-9,10,-3,8,-9,9,-10,2,-9,10,-3,8,-9,9,-2,10,-8,3,-9,8],
[-8,2,-9,10,-8,9,-3,8,-10,9,-2,9,-9,10,-8,3,-9,9,-10,8,-2,9,-8,10,-3,8,-9,2,-10,9],
[-3,8,-10,9,-8,10,-2,8,-9,9,-8,3,-9,8,-10,9,-2,9,-9,10,-3,8,-10,2,-9,9,-8,3,-9,10],
[-8,9,-3,8,-10,9,-8,2,-9,8,-9,9,-3,10,-9,8,-10,2,-9,8,-3,9,-10,8,-2,9,-9,3,-8,5],
[0]];
const GWBD = [
[0,0,0,0,0,-3,4,-1,5,-3,1,-5,3,-4,0,-5,4,-1,5,-2],
[4,-5,1,-4,5,-3,0,-2,5,-4,3,-1,4,-3,2,-4,5,-1,4,-5],
[1,-4,5,-2,4,-5,1,-4,5,-3,0,-2,5,-4,3,-5,1,-3,2,-4],
[5,-1,4,-5,3,-4,0,-5,4,-3,5,-1,3,-2,4,-5,1,-4,5,-3],
[4,-2,1,-4,3,-5,4,-1,2,-4,3,-5,0,-3,5,-4,3,-6,5,-2,4,-5,1,-3,4,-5,2,-4,3,45],
[-44,15,-5,14,-10,4,-15,11,-12,15,-6,12,-14,16,-3,18,-12,8,-15,14,-6,16,-18,12,-25,45,-40,50,-30,63],
[-60,55,-20,48,-65,-74,50,20,-65,45,-40,12,-42,35,-30,8,-28,20,-22,5,-15,14,-16,12,-3,11,-13,10,-2,13],
[-11,4,-12,11,-9,2,-10,9,-11,3,-9,11,-8,12,-3,11,-13,10,-2,13,-11,4,-12,11,-9,2,-10,9,-11,3],
[-9,8,-10,2,-8,10,-9,3,-9,10,-2,9,-10,8,-3,9,-8,2,-9,8,-9,2,-7,8,-9,7,-2,9,-7,3],
[-8,7,-9,2,-7,8,-8,3,-8,7,-2,6,-7,5,-1,7,-5,6,-7,2,-5,7,-6,1,-6,6,-7,2,-6,6],
[7,-2,6,-7,5,-1,7,-5,6,-7,2,-5,7,-6,1,-6,6,-7,2,-6],
[6,-5,2,-6,6,-5,1,-7,6,-6,2,-6,7,-5,1,-6,5,-7,2,-5],
[5,-6,1,-5,7,-6,2,-6,6,-5,1,-7,5,-6,2,-5,7,-6,1,-6],
[6,-2,5,-6,6,-5,1,-6,7,-5,2,-6,6,-7,1,-6,6,-5,2,-6],
[5,-6,2,-5,6,-6,5,-1,6,-5,6,-2,5,-6,7,-5,1,-6,5,-7],
[2,-5,6,-6,5,-1,6,-5,6,-2,7,-5,6,-6,1,-6,6,-7,5,-2],
[7,-6,5,-2,6,-5,7,-6,1,-6,6,-6,5,-2,6,-5,6,-1,7,-5],
[5,-2,6,-7,5,-6,1,-5,7,-6,2,-6,6,-5,6,-2,5,-6,6,-5],
[0]];
const FACH = [
[0,0,0,-3,6,-2,10,-7,12,-3,8,-11,2,-6,9,-12,4,-8,10,-2,7,-10,3,-9,9,-2,11,-10,4,-12],
[10,-2,12,-7,-17,3,-11,9,-2,12,-10,4,-11,8,-2,12,-10,3,-12,9,-1,11,-10,4,-12,8,-3,11,-7,2],
[-11,9,-3,12,-10,2,-11,8,-4,10,-9,3,-12,10,-3,12,-8,4,-10,9,-2,8,-10,11,-3,10,-11,4,-8,12],
[-2,9,-11,3,-12,10,-2,11,-8,4,-12,9,-3,8,-17,2,-10,12,-3,11,-8,4,-11,10,-2,9,-12,3,-10,11],
[-3,9,-11,2,-10,12,-3,11,-8,4,-12,9,-2,10,-11,3,-9,12,-4,8,-11,2,-10,12,-3,11,-8,4,-12,9],
[-3,10,-12,4,-9,11,-2,12,-10,3,-12,40,-74,35,-30,25,-8,22,-20,18,-24,5,-22,17,-20,6,-22,16,-19,21],
[-4,17,-25,20,-5,22,-17,20,-24,6,-21,18,-20,22,-6,25,-20,5,-22,19,-26,21,-4,20,-19,17,-22,5,-17,20],
[-19,3,-21,18,-17,25,-6,20,-22,17,-5,24,-19,16,-21,4,-18,22,-17,6,-20,19,-25,15,-4,18,-20,16,-3,21],
[-17,15,-3,18,-14,16,-17,4,-15,14,-16,15,-2,16,-15,14,-4,13,-22,14,-3,16,-15,12,-14,4,-13,15,-12,13],
[-3,14,-12,15,-13,2,-14,13,-12,4,-11,13,-12,14,-3,11,-12,13,-2,11,-12,3,-13,12,-11,2,-12,14,-10,3],
[-12,11,-2,13,-12,10,-11,3,-10,11,-13,12,-1,11,-12,10,-3,12,-10,13,-11,3,-12,10,-2,11,-13,12,-3,10],
[-11,2,-12,11,-10,12,-3,10,-12,11,-2,13,-12,3,-11,12,-10,2,-11,12,-3,11,20,-11,3,-10,11,-12,2,-10],
[12,-11,3,-13,11,-10,12,-2,10,-12,11,-4,13,-11,10,-12,2,-10,12,-3,11,-12,2,-10,13,-11,3,-12,10,-2],
[-11,3,-12,11,-10,12,-2,13,-10,11,-12,3,-11,12,-10,2,-12,10,-13,11,-3,12,-10,2,-11,12,-12,3,-10,11],
[-3,12,-11,10,-12,2,-10,12,-11,13,-3,11,-12,10,-2,12,-10,11,-12,3,-11,12,-2,10,-13,11,-3,10,-12,11],
[-12,11,-2,12,-11,10,-13,3,-10,12,-11,2,-12,11,-10,12,-3,10,-12,11,-2,13,-11,3,-10,12,-12,2,-11,10],
[-10,2,-11,10,-12,11,-3,12,-2,-15,11,-2,12,-11,10,-12,3,-10,12,-11,10,-3,12,-11,2,-10,13,-12,3,-11],
[-2,10,-12,11,-10,3,-11,10,-12,11,-2,13,-11,10,-12,4,-10,12,-11,10,-3,12,-11,2,-12,11,-10,3,-12,10],
[0]];

const traces = [BGG,PYRM,BEUR,OCHT,ABH,RHEN,NMED,BHE,OMED,LAGB,TRIT,PROB,BEMS,GWBD,FACH];

// ---- Layout ----
const PLOT_LEFT = 173, PLOT_RIGHT = 1973, PLOT_TOP = 106, PANEL_H = 160;
const X_MIN = 0, X_MAX = 90;
const FONT = '"Liberation Sans", Arial, Helvetica, sans-serif';

function buildSeries(rows, t0) {
  const pts = [];
  if (t0 > X_MIN) pts.push([X_MIN, 0]);
  rows.forEach((row, r) => {
    const dt = row.length >= 20 ? ROW_SPAN / row.length : DT_SHORT;
    row.forEach((v, j) => pts.push([t0 + r * ROW_SPAN + j * dt, v]));
  });
  const last = pts[pts.length - 1][0];
  if (last < X_MAX) pts.push([X_MAX, 0]);
  return pts;
}

const n = stations.length;
const grids = [], xAxes = [], yAxes = [], series = [], graphics = [];
for (let i = 0; i < n; i++) {
  const top = PLOT_TOP + i * PANEL_H;
  grids.push({
    left: PLOT_LEFT, width: PLOT_RIGHT - PLOT_LEFT, top: top, height: PANEL_H,
    show: true, borderColor: '#000', borderWidth: 2, backgroundColor: 'transparent'
  });
  const isLast = i === n - 1;
  xAxes.push({
    type: 'value', gridIndex: i, min: X_MIN, max: X_MAX, interval: 20, position: 'bottom',
    axisLine: { show: false, onZero: false },
    axisTick: { show: true, inside: true, length: 7, lineStyle: { color: '#000', width: 2 } },
    splitLine: { show: false },
    axisLabel: {
      show: isLast, color: '#000', fontSize: 35, fontFamily: FONT, margin: 4,
      showMaxLabel: false,
      formatter: v => (X_TICKS.indexOf(v) >= 0 ? String(v) : '')
    }
  });
  yAxes.push({
    type: 'value', gridIndex: i, min: -80, max: 80, show: false,
    axisLine: { show: false, onZero: false }, splitLine: { show: false }
  });
  series.push({
    type: 'line', xAxisIndex: i, yAxisIndex: i, name: stations[i],
    data: buildSeries(traces[i], starts[i]),
    showSymbol: false, symbol: 'none', clip: true,
    lineStyle: { color: '#000', width: 1.6, join: 'miter' },
    animation: false, silent: true
  });
  graphics.push({
    type: 'text', x: 152, y: top + PANEL_H / 2 + 3,
    style: { text: stations[i], fill: '#000', font: '36px ' + FONT, textAlign: 'right', textVerticalAlign: 'middle' }
  });
}
graphics.push({
  type: 'text', x: 1079, y: 83,
  style: { text: TITLE, fill: '#000', font: 'bold 36px ' + FONT, textAlign: 'center', textVerticalAlign: 'middle' }
});
graphics.push({
  type: 'text', x: 1028, y: 2577,
  style: { text: X_LABEL, fill: '#000', font: 'bold 37px ' + FONT, textAlign: 'center', textVerticalAlign: 'middle' }
});

const chart = echarts.init(document.getElementById('chart'), null, { renderer: 'canvas', width: 2005, height: 2641 });
chart.setOption({
  backgroundColor: '#fff',
  animation: false,
  grid: grids,
  xAxis: xAxes,
  yAxis: yAxes,
  series: series,
  graphic: graphics
});
</script>
</body>
</html>
